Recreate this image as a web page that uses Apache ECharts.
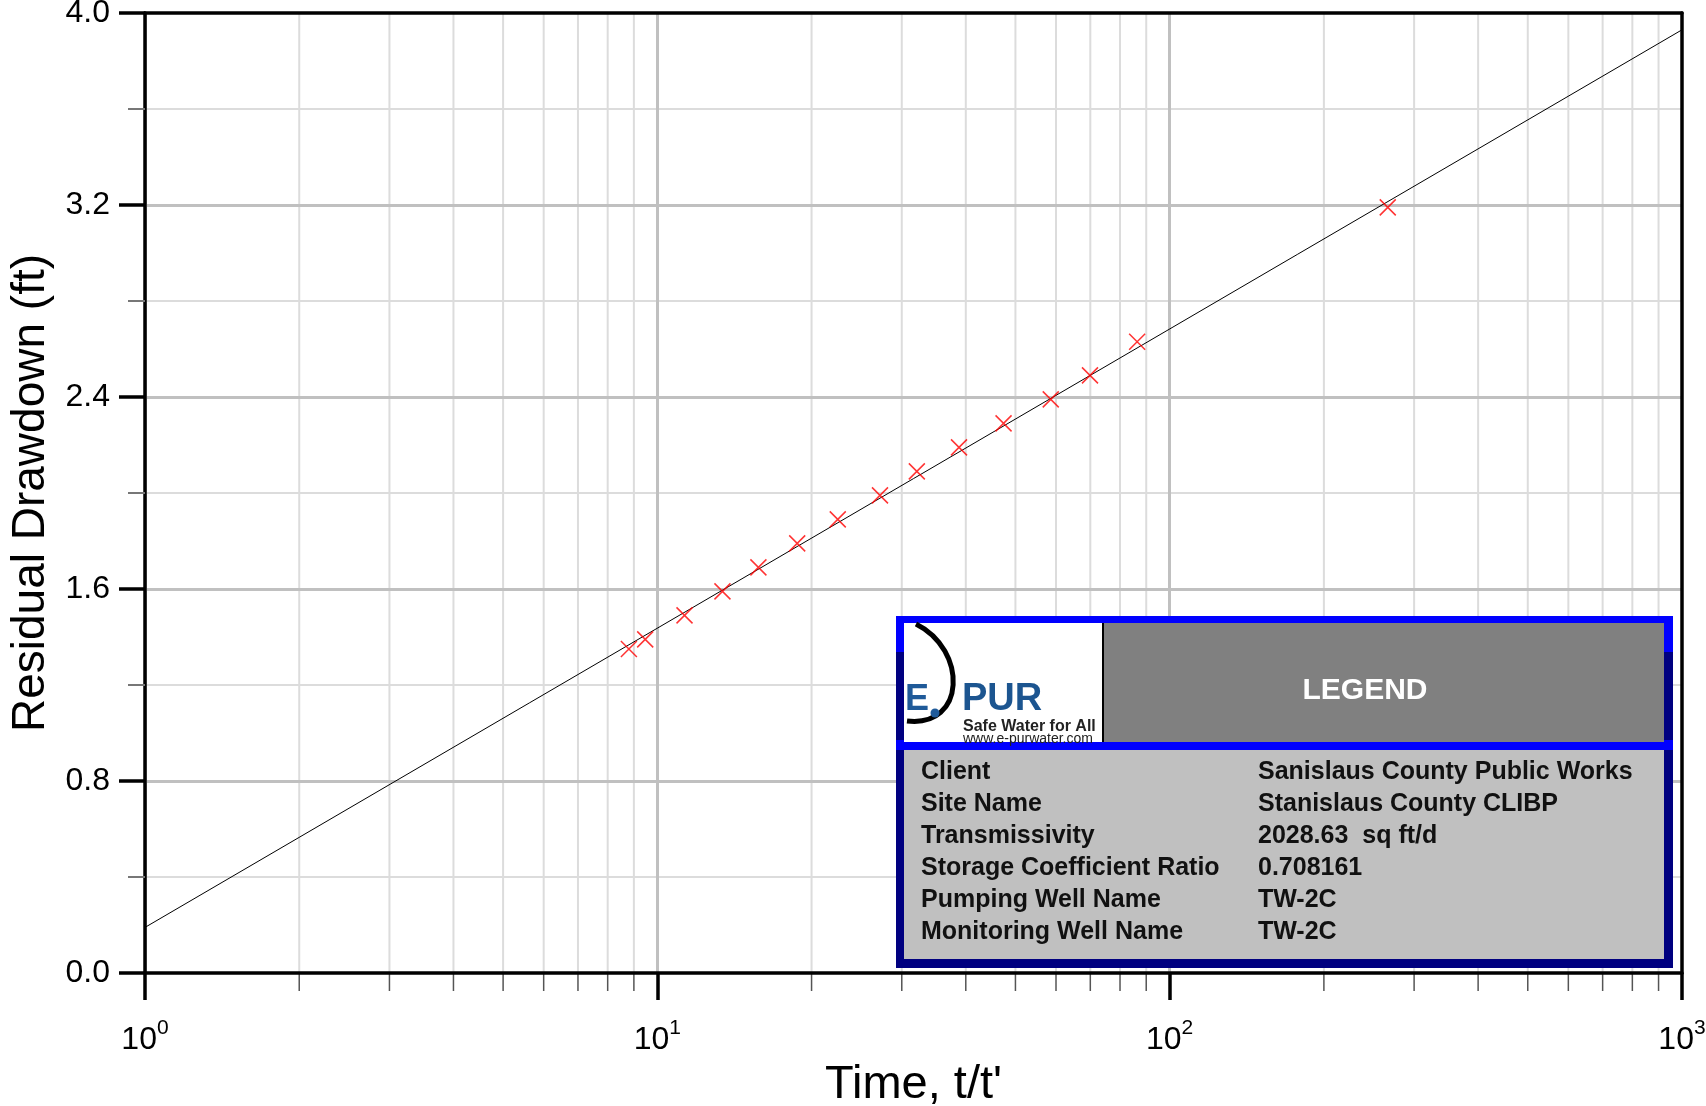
<!DOCTYPE html>
<html>
<head>
<meta charset="utf-8">
<script src="https://cdn.jsdelivr.net/npm/echarts@6/dist/echarts.min.js"></script>
<style>
html, body { margin: 0; padding: 0; background: #fff; }
#main { width: 1706px; height: 1106px; }
</style>
</head>
<body>
<div id="main"></div>
<script>
var FONT = '"Liberation Sans", Arial, sans-serif';

// measured points, t/t' vs residual drawdown
var timeRatio = [8.8, 9.47, 11.3, 13.4, 15.75, 18.75, 22.5, 27.2, 32.1, 38.8, 47.4, 58.6, 69.9, 86.4, 266.5];
var drawdown = [1.35, 1.39, 1.49, 1.59, 1.69, 1.79, 1.89, 1.99, 2.09, 2.19, 2.29, 2.39, 2.49, 2.63, 3.19];

// straight line fit (ends at the axis limits)
var fitX = [1, 1000];
var fitY = [0.19, 3.93];

// minor ticks of the log axis
var minorX = [2, 3, 4, 5, 6, 7, 8, 9, 20, 30, 40, 50, 60, 70, 80, 90, 200, 300, 400, 500, 600, 700, 800, 900];

var legendKeys = ['Client', 'Site Name', 'Transmissivity', 'Storage Coefficient Ratio', 'Pumping Well Name', 'Monitoring Well Name'];
var legendValues = ['Sanislaus County Public Works', 'Stanislaus County CLIBP', '2028.63  sq ft/d', '0.708161', 'TW-2C', 'TW-2C'];

var myChart = echarts.init(document.getElementById('main'));

var points = timeRatio.map(function (t, i) { return [t, drawdown[i]]; });
var fitLine = fitX.map(function (t, i) { return [t, fitY[i]]; });
var minorData = minorX.map(function (t) { return [t, 0]; });

// legend box drawn with graphic elements
var graphics = [
    { type: 'rect', shape: { x: 896, y: 650, width: 777, height: 318 }, style: { fill: '#000080' }, z: 10 },
    { type: 'rect', shape: { x: 896, y: 616, width: 777, height: 36 }, style: { fill: '#0000ff' }, z: 10 },
    { type: 'rect', shape: { x: 896, y: 740, width: 777, height: 10 }, style: { fill: '#0000ff' }, z: 10 },
    { type: 'rect', shape: { x: 904, y: 623, width: 198, height: 119 }, style: { fill: '#ffffff' }, z: 11 },
    // logo
    { type: 'bezierCurve', shape: { x1: 916, y1: 624, cpx1: 968, cpy1: 650, cpx2: 966, cpy2: 728, x2: 907, y2: 721 },
        style: { stroke: '#000', lineWidth: 5, fill: null }, z: 12 },
    { type: 'text', x: 905, y: 700, style: { text: 'E', font: 'bold 36px ' + FONT, fill: '#1f5a99', verticalAlign: 'middle' }, z: 12 },
    { type: 'circle', shape: { cx: 935, cy: 713, r: 4.5 }, style: { fill: '#1f5a99' }, z: 12 },
    { type: 'text', x: 962, y: 700, style: { text: 'PUR', font: 'bold 38px ' + FONT, fill: '#1c5590', verticalAlign: 'middle' }, z: 12 },
    { type: 'text', x: 963, y: 727, style: { text: 'Safe Water for All', font: 'bold 16px ' + FONT, fill: '#222', verticalAlign: 'middle' }, z: 12 },
    { type: 'text', x: 963, y: 739, style: { text: 'www.e-purwater.com', font: '14px ' + FONT, fill: '#222', verticalAlign: 'middle' }, z: 12 },
    // header
    { type: 'rect', shape: { x: 1102, y: 623, width: 562, height: 119 }, style: { fill: '#808080' }, z: 13 },
    { type: 'rect', shape: { x: 1102, y: 623, width: 2, height: 119 }, style: { fill: '#000' }, z: 13 },
    { type: 'text', x: 1365, y: 691, style: { text: 'LEGEND', font: 'bold 30px ' + FONT, fill: '#fff', align: 'center', verticalAlign: 'middle' }, z: 14 },
    { type: 'rect', shape: { x: 904, y: 750, width: 760, height: 209 }, style: { fill: '#c0c0c0' }, z: 13 }
];
legendKeys.forEach(function (k, i) {
    var y = 772 + i * 32;
    graphics.push({ type: 'text', x: 921, y: y, style: { text: k, font: 'bold 25px ' + FONT, fill: '#111', verticalAlign: 'middle' }, z: 14 });
    graphics.push({ type: 'text', x: 1258, y: y, style: { text: legendValues[i], font: 'bold 25px ' + FONT, fill: '#111', verticalAlign: 'middle' }, z: 14 });
});

option = {
    animation: false,
    grid: { left: 145, top: 13, right: 24, bottom: 133, containLabel: false, outerBoundsMode: 'none' },
    xAxis: [{
        type: 'log',
        logBase: 10,
        min: 1,
        max: 1000,
        name: "Time, t/t'",
        nameLocation: 'middle',
        nameGap: 89,
        nameTextStyle: { fontSize: 47, color: '#000', fontFamily: FONT },
        axisLine: { onZero: false, lineStyle: { color: '#000', width: 3.5 } },
        axisTick: { length: 27, lineStyle: { color: '#000', width: 3.5 } },
        axisLabel: {
            margin: 45,
            formatter: function (v) {
                return '{b|10}{s|' + Math.round(Math.log10(v)) + '}';
            },
            rich: {
                b: { fontSize: 32, color: '#000', fontFamily: FONT, lineHeight: 38, verticalAlign: 'bottom' },
                s: { fontSize: 21, color: '#000', fontFamily: FONT, lineHeight: 26, verticalAlign: 'top' }
            }
        },
        splitLine: { show: true, showMaxLine: false, lineStyle: { color: '#c0c0c0', width: 3 } }
    }, {
        type: 'log',
        min: 1,
        max: 1000,
        position: 'top',
        axisLine: { onZero: false, lineStyle: { color: '#000', width: 3.5 } },
        axisTick: { show: false },
        axisLabel: { show: false },
        splitLine: { show: false }
    }],
    yAxis: [{
        type: 'value',
        min: 0,
        max: 4,
        interval: 0.8,
        name: 'Residual Drawdown (ft)',
        nameLocation: 'middle',
        nameGap: 91,
        nameTextStyle: { fontSize: 46, color: '#000', fontFamily: FONT },
        axisLine: { show: true, onZero: false, lineStyle: { color: '#000', width: 3.5 } },
        axisTick: { show: true, length: 26, lineStyle: { color: '#000', width: 3.5 } },
        minorTick: { show: true, splitNumber: 2, length: 17, lineStyle: { color: '#777', width: 2 } },
        axisLabel: {
            margin: 35,
            fontSize: 32,
            color: '#000',
            fontFamily: FONT,
            formatter: function (v) { return v.toFixed(1); }
        },
        splitLine: { show: true, showMaxLine: false, showMinLine: false, lineStyle: { color: '#c0c0c0', width: 3 } },
        minorSplitLine: { show: true, lineStyle: { color: '#dcdcdc', width: 2 } }
    }, {
        type: 'value',
        min: 0,
        max: 4,
        position: 'right',
        axisLine: { show: true, onZero: false, lineStyle: { color: '#000', width: 3.5 } },
        axisTick: { show: false },
        axisLabel: { show: false },
        splitLine: { show: false }
    }],
    series: [{
        // minor grid lines and ticks for the log axis
        type: 'custom',
        z: -1,
        silent: true,
        data: minorData,
        renderItem: function (params, api) {
            var bot = api.coord([api.value(0), 0]);
            var top = api.coord([api.value(0), 4]);
            return {
                type: 'group',
                children: [{
                    type: 'line',
                    shape: { x1: bot[0], y1: top[1], x2: bot[0], y2: bot[1] },
                    style: { stroke: '#dcdcdc', lineWidth: 2 }
                }, {
                    type: 'line',
                    shape: { x1: bot[0], y1: bot[1], x2: bot[0], y2: bot[1] + 18 },
                    style: { stroke: '#555', lineWidth: 1.5 }
                }]
            };
        }
    }, {
        type: 'line',
        data: fitLine,
        symbol: 'none',
        z: 3,
        lineStyle: { color: '#000', width: 1 }
    }, {
        type: 'scatter',
        data: points,
        symbol: 'path://M0,0L10,10M10,0L0,10',
        symbolSize: 16,
        z: 4,
        itemStyle: { color: 'none', borderColor: '#ff0000', borderWidth: 1.5 }
    }],
    graphic: graphics
};
myChart.setOption(option);
</script>
</body>
</html>
